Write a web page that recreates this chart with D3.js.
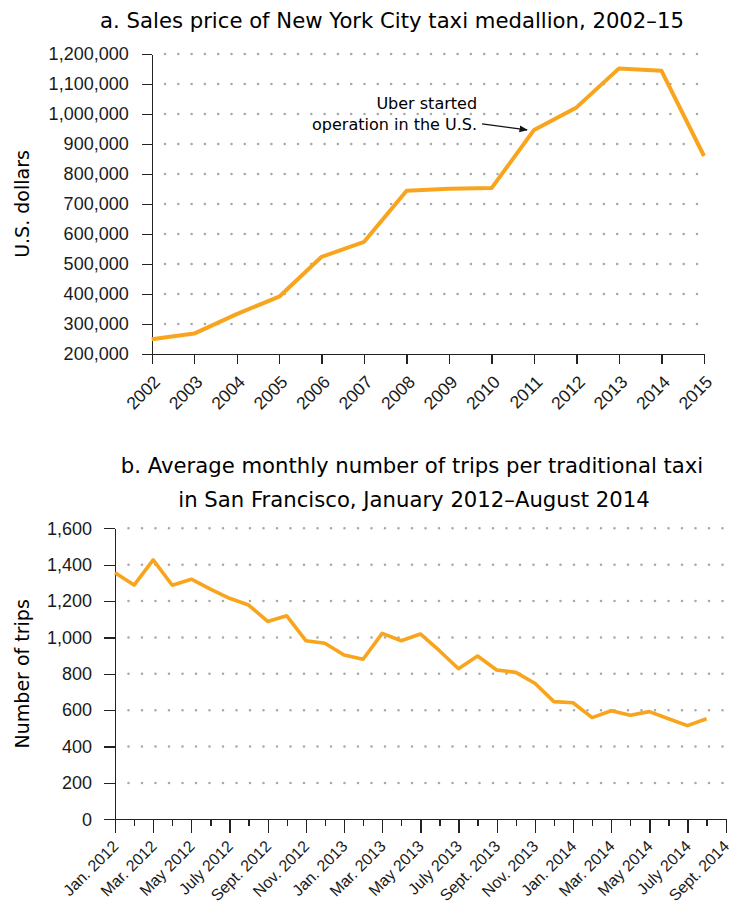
<!DOCTYPE html>
<html>
<head>
<meta charset="utf-8">
<script src="https://cdn.jsdelivr.net/npm/d3@7"></script>
<style>
  body { margin: 0; background: #fff; }
  svg { display: block; font-family: "DejaVu Sans", Lato, sans-serif; }
  .axis path, .axis line { stroke: #222; stroke-width: 1.3; shape-rendering: crispEdges; }
  .axis text { fill: #1a1a1a; }
</style>
</head>
<body>
<svg id="chart" width="732" height="907"></svg>
<script>
// panel a: NYC medallion price
var years = [2002, 2003, 2004, 2005, 2006, 2007, 2008, 2009, 2010, 2011, 2012, 2013, 2014, 2015];
var medallionPrice = [249000, 268000, 333000, 391000, 524000, 574000, 744000, 751000, 753000,
  947000, 1022000, 1152000, 1144000, 860000];
var priceTicks = [200000, 300000, 400000, 500000, 600000, 700000, 800000, 900000, 1000000, 1100000, 1200000];

// panel b: SF trips per taxi, Jan 2012 - Aug 2014
var monthLabels = ['Jan. 2012', 'Mar. 2012', 'May 2012', 'July 2012', 'Sept. 2012', 'Nov. 2012',
  'Jan. 2013', 'Mar. 2013', 'May 2013', 'July 2013', 'Sept. 2013', 'Nov. 2013',
  'Jan. 2014', 'Mar. 2014', 'May 2014', 'July 2014', 'Sept. 2014'];
var tripsPerTaxi = [1356, 1288, 1426, 1287, 1320, 1266, 1215, 1178, 1088, 1119, 982, 968,
  903, 880, 1022, 982, 1019, 927, 828, 898, 821, 808, 748, 647,
  641, 559, 597, 572, 592, 553, 515, 553];
var tripTicks = [0, 200, 400, 600, 800, 1000, 1200, 1400, 1600];

var lineColor = '#f8a51d';
var svg = d3.select('#chart');

function dottedGrid(g, ticks, y, x0, x1, step) {
  g.append('g').attr('class', 'grid')
    .selectAll('line')
    .data(ticks)
    .enter().append('line')
    .attr('x1', x0 + step)
    .attr('x2', x1)
    .attr('y1', function (d) { return y(d); })
    .attr('y2', function (d) { return y(d); })
    .attr('stroke', '#a9a9a9')
    .attr('stroke-width', 2.6)
    .attr('stroke-linecap', 'round')
    .attr('stroke-dasharray', '0 ' + step);
}

// ---------- panel a ----------
(function () {
  var x = d3.scaleLinear().domain([2002, 2015]).range([151.7, 704]);
  var y = d3.scaleLinear().domain([200000, 1200000]).range([354, 54]);
  var g = svg.append('g');

  g.append('text')
    .attr('x', 392).attr('y', 28)
    .attr('text-anchor', 'middle')
    .attr('font-size', 21.2)
    .text('a. Sales price of New York City taxi medallion, 2002\u201315');

  dottedGrid(g, priceTicks.slice(1), y, x.range()[0], x.range()[1], 13.3);

  g.append('g').attr('class', 'axis')
    .attr('transform', 'translate(' + x.range()[0] + ',0)')
    .call(d3.axisLeft(y).tickValues(priceTicks).tickFormat(d3.format(','))
      .tickSize(10).tickSizeOuter(0).tickPadding(13))
    .selectAll('text').attr('font-size', 18);

  var xAxis = g.append('g').attr('class', 'axis')
    .attr('transform', 'translate(0,' + y.range()[0] + ')')
    .call(d3.axisBottom(x).tickValues(years).tickFormat(d3.format('d'))
      .tickSize(10).tickSizeOuter(0));
  xAxis.selectAll('text')
    .attr('font-size', 17.5)
    .attr('text-anchor', 'end')
    .attr('x', 0).attr('y', 0).attr('dy', 0)
    .attr('transform', 'translate(9,29)rotate(-45)');

  g.append('text')
    .attr('transform', 'translate(29,' + (y.range()[0] + y.range()[1]) / 2 + ')rotate(-90)')
    .attr('text-anchor', 'middle')
    .attr('font-size', 19)
    .text('U.S. dollars');

  g.append('path')
    .datum(medallionPrice)
    .attr('fill', 'none')
    .attr('stroke', lineColor)
    .attr('stroke-width', 4)
    .attr('stroke-linejoin', 'round')
    .attr('d', d3.line()
      .x(function (d, i) { return x(years[i]); })
      .y(function (d) { return y(d); }));

  // annotation for 2011
  var ax = x(2011) - 7;
  var ay = y(medallionPrice[9]);
  svg.append('defs').append('marker')
    .attr('id', 'arrow')
    .attr('viewBox', '0 0 10 10')
    .attr('refX', 9).attr('refY', 5)
    .attr('markerWidth', 7).attr('markerHeight', 7)
    .attr('orient', 'auto')
    .append('path').attr('d', 'M0,1L10,5L0,9z').attr('fill', '#111');
  g.append('line')
    .attr('x1', ax - 45).attr('y1', ay - 6)
    .attr('x2', ax).attr('y2', ay)
    .attr('stroke', '#111').attr('stroke-width', 1.2)
    .attr('marker-end', 'url(#arrow)');
  var note = g.append('text')
    .attr('text-anchor', 'end')
    .attr('font-size', 16);
  note.append('tspan').attr('x', ax - 50).attr('y', ay - 21).text('Uber started');
  note.append('tspan').attr('x', ax - 50).attr('y', ay).text('operation in the U.S.');
})();

// ---------- panel b ----------
(function () {
  var x = d3.scaleLinear().domain([0, 32]).range([115, 725.7]);
  var y = d3.scaleLinear().domain([0, 1600]).range([819.3, 528.3]);
  var g = svg.append('g');

  var title = g.append('text')
    .attr('text-anchor', 'middle')
    .attr('font-size', 21.2);
  title.append('tspan').attr('x', 412).attr('y', 473)
    .text('b. Average monthly number of trips per traditional taxi');
  title.append('tspan').attr('x', 414).attr('y', 507)
    .text('in San Francisco, January 2012\u2013August 2014');

  dottedGrid(g, tripTicks.slice(1), y, x.range()[0], x.range()[1], 13.5);

  g.append('g').attr('class', 'axis')
    .attr('transform', 'translate(' + x.range()[0] + ',0)')
    .call(d3.axisLeft(y).tickValues(tripTicks).tickFormat(d3.format(','))
      .tickSize(11).tickSizeOuter(0).tickPadding(12))
    .selectAll('text').attr('font-size', 18);

  var xAxis = g.append('g').attr('class', 'axis')
    .attr('transform', 'translate(0,' + y.range()[0] + ')')
    .call(d3.axisBottom(x).tickValues(d3.range(33))
      .tickFormat(function (d) { return d % 2 === 0 ? monthLabels[d / 2] : ''; })
      .tickSizeOuter(0));
  xAxis.selectAll('.tick line')
    .attr('y2', function (d) { return d % 2 === 0 ? 14 : 7; });
  xAxis.selectAll('text')
    .attr('font-size', 16)
    .attr('text-anchor', 'end')
    .attr('x', 0).attr('y', 0).attr('dy', 0)
    .attr('transform', 'translate(4,28)rotate(-45)');

  g.append('text')
    .attr('transform', 'translate(29,' + (y.range()[0] + y.range()[1]) / 2 + ')rotate(-90)')
    .attr('text-anchor', 'middle')
    .attr('font-size', 19)
    .text('Number of trips');

  g.append('path')
    .datum(tripsPerTaxi)
    .attr('fill', 'none')
    .attr('stroke', lineColor)
    .attr('stroke-width', 3.6)
    .attr('stroke-linejoin', 'round')
    .attr('d', d3.line()
      .x(function (d, i) { return x(i); })
      .y(function (d) { return y(d); }));
})();
</script>
</body>
</html>
